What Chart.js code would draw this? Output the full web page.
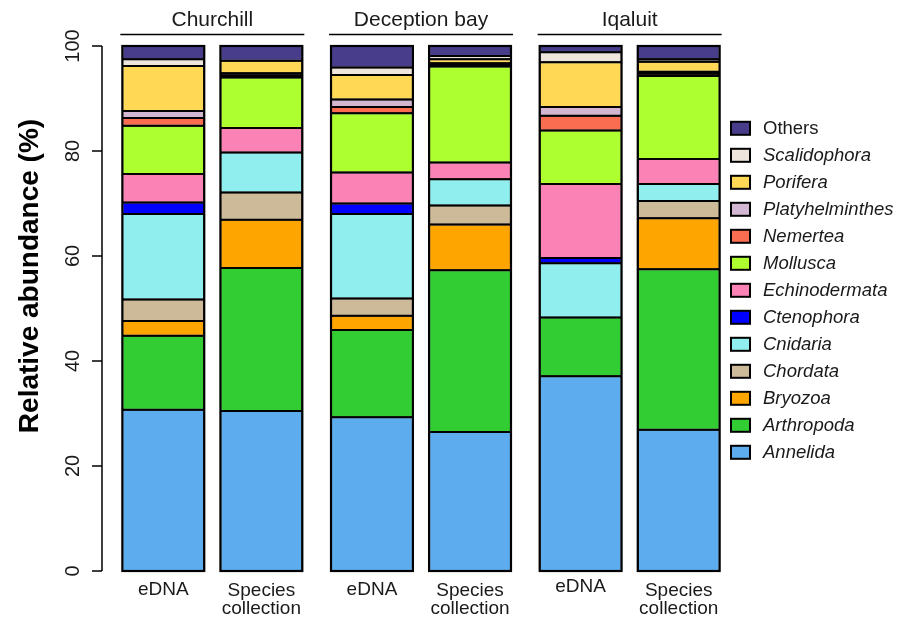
<!DOCTYPE html>
<html>
<head>
<meta charset="utf-8">
<script src="https://cdn.jsdelivr.net/npm/chart.js@4/dist/chart.umd.min.js"></script>
<style>
  html, body { margin: 0; padding: 0; background: #ffffff; }
  canvas { display: block; }
</style>
</head>
<body>
<canvas id="chart" width="897" height="617"></canvas>
<script>
// Sites and sampling methods
const sites = ['Churchill', 'Deception bay', 'Iqaluit'];
const methods = ['eDNA', 'Species collection'];
const yTicks = [0, 20, 40, 60, 80, 100];

// Relative abundance (%) per taxon, in the order:
// Churchill eDNA, Churchill species, Deception eDNA, Deception species, Iqaluit eDNA, Iqaluit species
const annelida        = [30.7, 30.5, 29.3, 26.5, 37.1, 26.9];
const arthropoda      = [14.1, 27.2, 16.6, 30.8, 11.2, 30.6];
const bryozoa         = [2.8, 9.2, 2.7, 8.7, 0, 9.7];
const chordata        = [4.1, 5.2, 3.3, 3.6, 0, 3.3];
const cnidaria        = [16.3, 7.6, 16.1, 5.0, 10.3, 3.2];
const ctenophora      = [2.2, 0, 2.0, 0, 1.0, 0];
const echinodermata   = [5.4, 4.7, 5.9, 3.2, 14.1, 4.8];
const mollusca        = [9.2, 9.6, 11.3, 18.3, 10.2, 15.8];
const nemertea        = [1.5, 0.4, 1.2, 0.3, 2.8, 0.4];
const platyhelminthes = [1.3, 0.4, 1.4, 0.3, 1.7, 0.4];
const porifera        = [8.6, 2.4, 4.7, 0.8, 8.5, 1.9];
const scalidophora    = [1.3, 0, 1.4, 0.6, 1.9, 0.5];
const others          = [2.5, 2.8, 4.1, 1.9, 1.2, 2.5];

// Stack order, bottom to top
const taxa = [
  { name: 'Annelida',        values: annelida,        color: '#5cacee' },
  { name: 'Arthropoda',      values: arthropoda,      color: '#32cd32' },
  { name: 'Bryozoa',         values: bryozoa,         color: '#ffa500' },
  { name: 'Chordata',        values: chordata,        color: '#cdba98' },
  { name: 'Cnidaria',        values: cnidaria,        color: '#90eeee' },
  { name: 'Ctenophora',      values: ctenophora,      color: '#0000ff' },
  { name: 'Echinodermata',   values: echinodermata,   color: '#fb82b5' },
  { name: 'Mollusca',        values: mollusca,        color: '#adff2f' },
  { name: 'Nemertea',        values: nemertea,        color: '#fa6d50' },
  { name: 'Platyhelminthes', values: platyhelminthes, color: '#d2b6d2' },
  { name: 'Porifera',        values: porifera,        color: '#ffd955' },
  { name: 'Scalidophora',    values: scalidophora,    color: '#eee6dc' },
  { name: 'Others',          values: others,          color: '#483d8b', upright: true }
];

const FONT = '"Liberation Sans", Arial, Helvetica, sans-serif';

// Two stacks per site: eDNA on the left, species collection on the right
const datasets = [];
taxa.forEach(t => {
  methods.forEach((m, mi) => {
    datasets.push({
      label: t.name,
      stack: m,
      data: sites.map((s, si) => t.values[si * 2 + mi]),
      backgroundColor: t.color,
      borderColor: '#000000',
      borderWidth: 1,
      borderSkipped: false
    });
  });
});

// Axis, titles, bar captions, frames and legend drawn around the plot
const decor = {
  id: 'decor',
  afterDatasetsDraw(chart) {
    const ctx = chart.ctx;
    const ys = chart.scales.y;
    const y0 = ys.getPixelForValue(0);
    const y100 = ys.getPixelForValue(100);
    const metaE = chart.getDatasetMeta(0);
    const metaS = chart.getDatasetMeta(1);

    ctx.save();
    ctx.strokeStyle = '#000';

    // segment separators at the top edge of every non-empty segment
    ctx.lineWidth = 2;
    ctx.beginPath();
    chart.data.datasets.forEach((ds, di) => {
      const meta = chart.getDatasetMeta(di);
      meta.data.forEach((el, i) => {
        if (!ds.data[i]) return;
        ctx.moveTo(el.x - el.width / 2, el.y);
        ctx.lineTo(el.x + el.width / 2, el.y);
      });
    });
    ctx.stroke();

    // outer frame of every stacked bar
    ctx.lineWidth = 2.2;
    [metaE, metaS].forEach(meta => {
      meta.data.forEach(el => {
        ctx.strokeRect(el.x - el.width / 2, y100, el.width, y0 - y100);
      });
    });

    // y axis
    const axX = chart.chartArea.left - 6;
    ctx.lineWidth = 1.5;
    ctx.beginPath();
    ctx.moveTo(axX, y0);
    ctx.lineTo(axX, y100);
    yTicks.forEach(v => {
      const py = ys.getPixelForValue(v);
      ctx.moveTo(axX, py);
      ctx.lineTo(axX - 10, py);
    });
    ctx.stroke();

    ctx.fillStyle = '#1a1a1a';
    ctx.font = '20px ' + FONT;
    ctx.textAlign = 'center';
    ctx.textBaseline = 'middle';
    yTicks.forEach(v => {
      const py = ys.getPixelForValue(v);
      ctx.save();
      ctx.translate(73, py);
      ctx.rotate(-Math.PI / 2);
      ctx.fillText(String(v), 0, 0);
      ctx.restore();
    });

    // y title
    ctx.save();
    ctx.translate(30, 276);
    ctx.rotate(-Math.PI / 2);
    ctx.font = 'bold 28px ' + FONT;
    ctx.fillStyle = '#000';
    ctx.fillText('Relative abundance (%)', 0, 0);
    ctx.restore();

    // site headers with underline
    sites.forEach((s, i) => {
      const e = metaE.data[i], sp = metaS.data[i];
      const left = e.x - e.width / 2 - 2;
      const right = sp.x + sp.width / 2 + 2;
      ctx.font = '21px ' + FONT;
      ctx.textBaseline = 'alphabetic';
      ctx.fillStyle = '#1a1a1a';
      ctx.fillText(s, (left + right) / 2, 26);
      ctx.beginPath();
      ctx.lineWidth = 1.5;
      ctx.strokeStyle = '#000';
      ctx.moveTo(left, 34.5);
      ctx.lineTo(right, 34.5);
      ctx.stroke();

      // bar captions
      ctx.font = '19px ' + FONT;
      ctx.fillText(methods[0], e.x, i === 2 ? 592 : 595);
      const words = methods[1].split(' ');
      ctx.fillText(words[0], sp.x, 596);
      ctx.fillText(words[1], sp.x, 614);
    });

    // legend, top entry = top of stack
    const legendTop = 128.3;
    const pitch = 27.0;
    const order = taxa.slice().reverse();
    ctx.textAlign = 'left';
    ctx.textBaseline = 'middle';
    order.forEach((t, i) => {
      const cy = legendTop + i * pitch;
      ctx.fillStyle = t.color;
      ctx.fillRect(731, cy - 6.5, 19, 13);
      ctx.lineWidth = 2;
      ctx.strokeStyle = '#000';
      ctx.strokeRect(731, cy - 6.5, 19, 13);
      ctx.fillStyle = '#1a1a1a';
      ctx.font = (t.upright ? '' : 'italic ') + '18.5px ' + FONT;
      ctx.fillText(t.name, 763, cy + 1);
    });
    ctx.restore();
  }
};

new Chart(document.getElementById('chart'), {
  type: 'bar',
  data: { labels: sites, datasets },
  options: {
    responsive: false,
    animation: false,
    devicePixelRatio: 1,
    layout: { padding: { left: 108, right: 163, top: 46, bottom: 46 } },
    plugins: { legend: { display: false }, tooltip: { enabled: false } },
    scales: {
      x: {
        display: false,
        stacked: true,
        categoryPercentage: 0.94,
        barPercentage: 0.835
      },
      y: { display: false, stacked: true, min: 0, max: 100 }
    },
    datasets: { bar: { categoryPercentage: 0.94, barPercentage: 0.835 } }
  },
  plugins: [decor]
});
</script>
</body>
</html>
